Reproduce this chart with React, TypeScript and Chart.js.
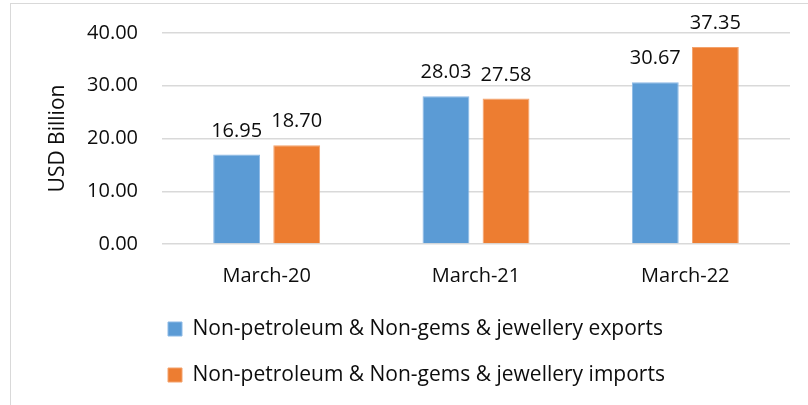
import React, { useEffect, useRef } from "react";
import { Chart, registerables } from "chart.js";

Chart.register(...registerables);

const categories = ["March-20", "March-21", "March-22"];
const exportsValues = [16.95, 28.03, 30.67];
const importsValues = [18.7, 27.58, 37.35];
const seriesNames = [
  "Non-petroleum & Non-gems & jewellery exports",
  "Non-petroleum & Non-gems & jewellery imports",
];
const yAxisTitle = "USD Billion";

const FONT = "'Open Sans'";
const TEXT = "#0d0d0d";

const valueLabels = {
  id: "valueLabels",
  afterDatasetsDraw(chart: any) {
    const ctx = chart.ctx;
    ctx.save();
    ctx.font = `20px ${FONT}`;
    ctx.fillStyle = TEXT;
    ctx.textAlign = "center";
    ctx.textBaseline = "alphabetic";
    chart.data.datasets.forEach((ds: any, i: number) => {
      const meta = chart.getDatasetMeta(i);
      meta.data.forEach((el: any, j: number) => {
        ctx.fillText(Number(ds.data[j]).toFixed(2), el.x, el.y - 18);
      });
    });
    ctx.restore();
  },
};

const legendShift = {
  id: "legendShift",
  afterLayout(chart: any) {
    const l = chart.legend;
    if (!l) return;
    const shift = l.options.labels.padding - 6;
    l.left -= shift;
    l.right -= shift;
  },
};

export default function App() {
  const ref = useRef<HTMLCanvasElement | null>(null);
  useEffect(() => {
    if (!ref.current) return;
    const chart = new Chart(ref.current, {
      type: "bar",
      data: {
        labels: categories,
        datasets: [
          {
            label: seriesNames[0],
            data: exportsValues,
            backgroundColor: "#5b9bd5",
            borderColor: "#8cb9e6",
            borderWidth: 1,
            categoryPercentage: 0.574,
            barPercentage: 0.78,
          },
          {
            label: seriesNames[1],
            data: importsValues,
            backgroundColor: "#ed7d31",
            borderColor: "#f3a26c",
            borderWidth: 1,
            categoryPercentage: 0.574,
            barPercentage: 0.78,
          },
        ],
      },
      options: {
        responsive: false,
        animation: false,
        layout: {
          padding: { left: 10, right: 18, top: 33, bottom: 9.5 },
        },
        plugins: {
          tooltip: { enabled: false },
          legend: {
            position: "bottom",
            align: "start",
            fullSize: false,
            labels: {
              boxWidth: 14,
              boxHeight: 14,
              padding: 25,
              color: TEXT,
              font: { family: FONT, size: 21 },
            },
          },
        },
        scales: {
          x: {
            grid: { display: false, drawTicks: false },
            border: { display: false },
            ticks: {
              color: TEXT,
              padding: 20,
              font: { family: FONT, size: 20 },
            },
            afterFit: (scale: any) => {
              scale.height = 49.5;
            },
          },
          y: {
            min: 0,
            max: 40,
            grid: { color: "#d9d9d9", lineWidth: 1.5, drawTicks: false },
            border: { display: false },
            ticks: {
              stepSize: 10,
              color: TEXT,
              padding: 24,
              font: { family: FONT, size: 20 },
              callback: (v: any) => Number(v).toFixed(2),
            },
            title: {
              display: true,
              text: yAxisTitle,
              color: TEXT,
              font: { family: FONT, size: 21 },
              padding: { top: 35, bottom: 0 },
            },
            afterFit: (scale: any) => {
              scale.width = 152;
              scale.paddingTop = 0;
              scale.paddingBottom = 0;
            },
          },
        },
      },
      plugins: [valueLabels, legendShift],
    });
    return () => chart.destroy();
  }, []);

  return (
    <div
      style={{
        position: "fixed",
        left: 0,
        top: 0,
        width: 808,
        height: 405,
        background: "#fff",
        overflow: "hidden",
      }}
    >
      <div
        style={{
          position: "absolute",
          left: 10,
          top: 3,
          width: 830,
          height: 430,
          border: "1px solid #d9d9d9",
        }}
      />
      <canvas
        ref={ref}
        width={808}
        height={405}
        style={{ position: "absolute", left: 0, top: 0 }}
      />
    </div>
  );
}
